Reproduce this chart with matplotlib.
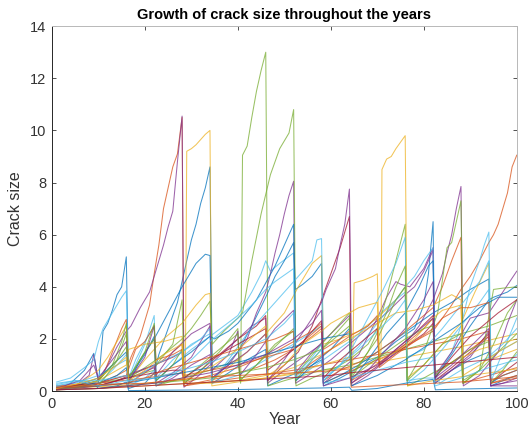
import matplotlib
matplotlib.use("Agg")
import matplotlib.pyplot as plt

# crack size per year, one list of (year, size) points per monitored crack
crack_01 = [(1,0.05),(4,0.3),(7,0.8),(9,1.45),(10,0.3),(11,2.3),(12,2.6),(13,3.1),(14,3.7),(15,4.0),(16,5.15),(16.5,0.1),(20,0.3),(22,0.7),(23,1.4),(25,2.4),(27,3.4),(28,4.2),(29,5.0),(30,5.8),(31,6.4),(32,7.2),(33,7.8),(34,8.6),(34.5,0.3),(38,0.7),(42,1.2),(46,1.6),(46.4,0.2),(50,0.5),(54,0.8),(58,1.2),(58.4,0.2),(62,0.5),(66,0.9),(70,1.3),(74,1.9),(78,2.4),(80,3.3),(81,4.5),(82,6.5),(82.4,0.3),(86,0.8),(90,1.2),(94,1.5),(94.4,0.2),(97,0.4),(100,0.6)]
crack_02 = [(1,0.1),(5,0.2),(9,0.35),(10,0.3),(14,0.6),(16,0.8),(17,1.3),(19,2.1),(21,3.3),(22,4.5),(23,5.6),(24,7.0),(25,7.8),(26,8.6),(27,9.1),(28,10.5),(28.4,0.2),(32,0.35),(36,0.5),(40,0.7),(44,0.9),(48,1.2),(52,1.6),(56,2.1),(58,2.4),(58.4,0.3),(62,0.6),(66,0.9),(70,1.2),(74,1.5),(78,1.9),(82,2.3),(84,2.8),(86,3.3),(88,3.9),(90,4.4),(92,5.0),(94,5.7),(95,6.0),(96,6.4),(97,7.0),(98,7.6),(99,8.6),(100,9.05)]
crack_03 = [(1,0.1),(8,0.15),(14,0.2),(20,0.3),(26,0.4),(28.7,0.45),(29,9.2),(30,9.3),(31,9.45),(32,9.65),(33,9.85),(34,10.0),(34.4,0.2),(40,0.35),(46,0.5),(52,0.65),(58,0.8),(64,0.9),(70,1.1),(76,1.3),(82,1.5),(88,1.7),(94,1.95),(100,2.2)]
crack_04 = [(1,0.05),(5,0.2),(8,0.6),(9,1.4),(10,0.4),(12,1.0),(14,1.7),(16,2.3),(17,2.5),(19,3.2),(21,3.8),(22,4.4),(23,5.0),(24,5.6),(25,6.3),(26,6.9),(27,8.8),(28,10.55),(28.4,0.15),(31,0.5),(34,1.0),(37,1.5),(40,2.0),(43,2.5),(46,2.8),(46.4,0.3),(50,0.8),(54,1.3),(58,1.8),(58.4,0.3),(62,0.8),(66,1.4),(70,2.8),(72,3.6),(74,4.2),(75,4.1),(77,4.0),(80,4.7),(82,5.5),(82.4,0.3),(86,0.8),(90,1.3),(94,2.3),(94.4,0.2),(97,0.3),(100,0.5)]
crack_05 = [(1,0.1),(6,0.2),(10,0.3),(16,0.5),(22,0.8),(22.4,0.2),(28,0.5),(34,0.8),(40,1.2),(40.6,0.3),(41,9.05),(42,9.4),(43,10.5),(44,11.5),(45,12.3),(46,13.0),(46.5,0.2),(50,0.4),(54,0.6),(58,0.8),(64,1.0),(70,1.3),(76,1.6),(82,1.9),(88,2.2),(94,2.5),(100,2.9)]
crack_06 = [(1,0.35),(4,0.5),(7,0.9),(9,1.2),(10,1.9),(11,2.4),(13,3.0),(15,3.6),(16,3.85),(16.5,0.5),(18,1.2),(20,1.9),(22,2.5),(22.4,0.4),(26,1.0),(30,1.6),(34,2.1),(37,2.5),(40,2.9),(43,3.8),(45,4.5),(46,5.0),(47,4.6),(49,4.9),(52,5.3),(52.4,0.4),(56,0.9),(60,1.4),(64,1.9),(68,2.5),(72,3.2),(76,3.8),(76.4,0.4),(80,0.5),(83,0.5),(83.4,0.3),(88,0.8),(94,1.3),(100,1.9)]
crack_07 = [(1,0.1),(5,0.2),(9,0.3),(10,0.2),(14,0.4),(18,0.7),(22,1.0),(26,1.3),(28,1.5),(28.4,0.3),(32,0.8),(36,1.4),(40,2.0),(44,2.5),(46,2.9),(46.4,0.4),(50,1.0),(53,1.5),(56,2.5),(58,3.5),(60,4.5),(62,5.5),(64,6.7),(64.4,0.3),(68,0.7),(72,1.2),(76,1.7),(80,2.2),(82,2.6),(82.4,0.4),(86,0.9),(90,1.5),(94,2.2),(94.4,0.3),(97,0.7),(100,1.1)]
crack_08 = [(1,0.1),(5,0.15),(10,0.3),(14,0.6),(16,0.9),(16.5,0.3),(19,1.2),(22,2.0),(25,3.0),(28,4.0),(31,4.9),(33,5.25),(34,5.2),(34.5,0.4),(37,0.9),(40,1.5),(43,2.5),(46,3.6),(48,4.4),(50,5.0),(52,5.7),(52.4,3.9),(54,4.1),(56,4.4),(58,4.9),(58.4,0.3),(62,0.6),(66,1.0),(70,1.5),(74,2.0),(78,2.5),(82,3.0),(86,3.4),(90,3.9),(94,4.3),(94.4,0.3),(97,0.6),(100,0.8)]
crack_09 = [(1,0.15),(5,0.2),(9,0.3),(11,0.6),(13,1.5),(15,2.4),(16,2.75),(16.5,0.3),(20,0.7),(24,1.2),(28,1.8),(28.4,0.3),(32,0.5),(36,0.7),(40,0.9),(44,1.2),(48,1.5),(52,1.9),(56,2.3),(58,2.6),(58.4,0.4),(62,0.8),(66,1.1),(70,1.5),(74,2.0),(78,2.6),(82,3.2),(84,4.0),(86,5.0),(88,5.9),(88.4,0.3),(92,0.5),(96,0.7),(100,0.9)]
crack_10 = [(1,0.1),(6,0.3),(10,0.8),(12,1.3),(14,1.9),(16,2.5),(16.5,0.4),(20,1.2),(24,2.0),(28,2.6),(31,3.3),(33,3.7),(34,3.75),(34.5,0.4),(38,0.9),(42,1.5),(46,2.2),(50,3.0),(53,4.0),(56,4.9),(58,5.2),(58.4,1.8),(62,2.0),(66,2.3),(70,2.8),(74,3.5),(76,4.0),(76.4,0.5),(80,1.0),(84,1.8),(88,2.6),(91,3.8),(94,4.9),(94.4,1.2),(97,1.4),(100,1.6)]
crack_11 = [(1,0.05),(5,0.1),(10,0.2),(14,0.4),(18,0.6),(22,0.9),(22.4,0.2),(26,0.5),(30,1.0),(34,1.4),(34.4,0.5),(38,1.0),(40,1.5),(42,2.0),(44,3.0),(46,3.8),(47,4.5),(48,5.3),(49,6.0),(50,6.8),(51,7.5),(52,8.05),(52.4,0.3),(56,0.7),(60,1.2),(64,1.8),(68,2.4),(72,3.0),(76,3.7),(78,4.0),(80,4.6),(82,5.4),(82.4,0.4),(86,0.8),(90,1.4),(94,2.1),(94.4,0.2),(97,0.3),(100,0.4)]
crack_12 = [(1,0.1),(6,0.2),(10,0.4),(13,1.0),(15,1.9),(16,2.6),(16.5,0.5),(20,0.9),(24,1.4),(28,2.0),(30,2.4),(32,2.9),(34,3.45),(34.5,1.8),(37,2.3),(40,2.8),(41,3.0),(43,5.0),(45,6.8),(47,8.3),(49,9.3),(51,9.9),(52,10.8),(52.5,0.2),(56,0.5),(60,0.8),(64,1.2),(68,1.8),(70,2.4),(72,3.6),(74,5.0),(76,6.4),(76.5,0.2),(80,0.5),(84,0.9),(88,1.3),(88.4,0.3),(92,0.8),(96,1.5),(100,2.2)]
crack_13 = [(1,0.2),(5,0.3),(10,0.6),(16,1.2),(16.5,0.4),(20,1.8),(22,2.9),(22.4,0.5),(26,1.2),(30,1.8),(34,2.2),(34.4,0.4),(38,1.2),(42,2.2),(46,3.0),(50,3.8),(53,4.4),(55,4.8),(56,5.0),(57,5.8),(58,5.85),(58.5,0.5),(62,1.0),(66,1.7),(70,2.6),(74,3.5),(76,4.0),(78,4.4),(80,5.0),(82,5.5),(82.4,0.5),(86,1.5),(88,2.5),(90,4.0),(92,5.0),(93,5.6),(94,6.1),(94.5,0.4),(97,1.5),(100,2.8)]
crack_14 = [(1,0.1),(5,0.2),(10,0.5),(16,1.5),(16.5,0.5),(20,1.4),(22,2.1),(22.4,0.4),(26,1.0),(30,1.5),(34,2.1),(35,2.0),(38,2.3),(40,2.6),(44,3.5),(48,4.8),(50,5.6),(52,6.4),(52.5,0.4),(56,1.0),(60,1.6),(64,2.4),(64.4,0.4),(68,1.2),(72,2.2),(76,3.0),(79,4.0),(81,4.8),(82,5.0),(82.4,0.5),(86,1.4),(90,2.5),(94,3.5),(95,3.6),(98,3.8),(100,4.05)]
crack_15 = [(1,0.2),(10,0.3),(20,0.5),(28,0.7),(28.4,0.2),(36,0.4),(44,0.6),(52,0.8),(58,1.0),(64,1.2),(70,1.4),(76,1.6),(82,1.8),(88,2.0),(94,2.3),(94.4,0.3),(100,0.5)]
crack_16 = [(1,0.05),(10,0.1),(20,0.2),(30,0.3),(40,0.4),(46,0.5),(52,0.7),(58,1.0),(64,1.3),(64.7,1.0),(65,4.15),(67,4.25),(69,4.4),(70,4.5),(70.5,1.0),(70.8,1.6),(71,8.5),(72,8.9),(73,9.0),(74,9.3),(75,9.55),(76,9.8),(76.5,0.2),(82,0.4),(88,0.55),(94,0.7),(100,0.85)]
crack_17 = [(1,0.1),(5,0.15),(10,0.3),(16,0.6),(22,1.0),(22.4,0.3),(26,0.7),(30,1.3),(34,2.5),(34.4,0.5),(38,1.0),(42,1.5),(46,2.2),(46.4,0.4),(50,1.2),(53,2.0),(56,2.8),(58,3.4),(59,3.9),(60,4.3),(61,4.7),(62,5.6),(63,6.4),(64,7.75),(64.5,0.2),(68,0.6),(72,1.2),(76,1.8),(79,2.5),(82,3.5),(84,4.5),(85,5.3),(86,6.0),(87,7.0),(88,7.85),(88.5,0.2),(92,0.6),(96,1.5),(98,2.6),(100,3.5)]
crack_18 = [(1,0.1),(5,0.2),(10,0.4),(14,1.2),(16,2.2),(16.5,0.5),(20,1.5),(22,2.0),(22.4,0.4),(26,1.0),(28,1.6),(28.4,0.3),(32,0.8),(36,1.5),(40,2.4),(40.4,0.4),(44,1.0),(48,1.7),(52,2.4),(52.4,0.4),(56,1.2),(60,2.0),(64,2.8),(64.4,0.5),(68,1.5),(70,2.0),(74,3.5),(76,4.0),(76.4,0.4),(80,1.5),(83,3.0),(85,5.5),(86,5.7),(87,6.5),(88,7.3),(88.5,0.3),(92,0.8),(95,1.8),(98,3.0),(100,3.5)]
crack_19 = [(1,0.2),(6,0.4),(10,0.3),(13,0.8),(16,1.4),(16.5,0.3),(22,1.0),(28,1.5),(32,2.0),(34,2.4),(34.4,0.3),(40,0.6),(46,1.2),(52,1.8),(58,2.5),(58.4,0.4),(62,1.0),(65,1.8),(68,2.8),(71,3.8),(74,4.9),(76,5.9),(76.4,0.3),(80,0.8),(84,1.6),(88,2.5),(92,3.4),(94,3.9),(94.4,0.6),(97,0.9),(100,1.4)]
crack_20 = [(1,0.15),(5,0.2),(9,0.3),(10,0.1),(14,0.2),(16,0.35),(16.5,0.02),(22,0.03),(28,0.04),(34,0.05),(40,0.06),(46,0.08),(52,0.1),(58,0.12),(64,0.15),(64.5,0.03),(70,0.1),(76,0.3),(82,0.45),(82.5,0.05),(88,0.08),(94,0.1),(100,0.12)]
crack_21 = [(1,0.1),(8,0.2),(10,0.3),(16,0.6),(18,1.6),(20,1.9),(22,2.5),(22.4,1.2),(26,1.4),(28,1.6),(28.4,0.6),(34,0.8),(40,1.0),(46,1.3),(52,1.6),(56,2.2),(58,2.5),(58.4,1.6),(62,2.0),(64,2.3),(64.4,0.4),(68,0.8),(72,1.3),(76,1.8),(80,2.4),(82,2.8),(82.4,0.7),(86,1.1),(90,1.6),(94,2.1),(94.4,0.4),(97,0.6),(100,0.8)]
crack_22 = [(1,0.1),(6,0.2),(10,0.4),(16,1.0),(16.5,1.6),(20,1.8),(24,1.9),(28,2.1),(28.4,0.3),(34,0.3),(40,0.4),(46,0.6),(52,0.9),(58,1.4),(62,1.8),(66,2.2),(70,2.6),(74,3.0),(78,3.1),(82,3.3),(86,3.7),(88,3.5),(88.4,0.6),(92,1.0),(96,1.5),(100,1.9)]
crack_23 = [(1,0.1),(6,0.4),(9,1.0),(10,0.5),(13,1.2),(16,1.9),(16.5,0.4),(20,1.3),(22,2.5),(22.4,0.6),(26,1.5),(30,2.2),(34,2.6),(34.4,0.8),(38,1.4),(40,2.3),(40.4,0.6),(44,1.4),(48,2.4),(52,3.1),(52.4,0.7),(56,1.5),(60,2.2),(64,2.9),(64.4,0.3),(68,0.8),(72,1.6),(76,2.4),(80,3.5),(82,4.2),(82.4,0.6),(86,1.5),(90,2.8),(94,3.0),(97,3.8),(100,4.6)]
crack_24 = [(1,0.05),(8,0.2),(10,0.2),(13,0.9),(16,1.7),(16.5,0.5),(20,1.5),(22,2.6),(22.4,1.0),(26,1.8),(28,3.5),(28.4,0.5),(32,1.0),(36,1.6),(40,2.2),(40.4,0.4),(44,1.0),(48,1.8),(52,2.3),(52.4,0.6),(56,1.4),(60,2.2),(64,3.0),(64.4,0.6),(68,1.5),(72,3.0),(74,4.0),(76,4.8),(76.4,0.4),(80,1.0),(84,1.8),(88,2.2),(88.4,0.4),(92,0.8),(95,3.9),(97,3.95),(100,4.0)]
crack_25 = [(1,0.3),(5,0.4),(10,0.4),(16,0.6),(16.5,0.2),(20,0.5),(22,0.8),(22.4,0.2),(26,0.6),(30,1.2),(34,1.9),(36,2.2),(40,2.8),(43,3.3),(46,3.9),(48,4.2),(52,4.7),(52.4,0.6),(56,1.3),(58,1.8),(58.4,0.4),(62,1.0),(66,1.6),(70,2.3),(74,3.0),(76,3.5),(76.4,1.3),(80,1.6),(84,2.4),(88,3.3),(92,4.2),(94,5.0),(94.4,1.4),(97,1.8),(100,2.4)]
crack_26 = [(1,0.1),(8,0.3),(10,0.2),(16,0.5),(22,0.7),(26,0.8),(28,0.8),(28.4,0.5),(34,1.2),(40,1.8),(46,2.4),(46.4,0.8),(50,1.3),(54,1.9),(58,2.7),(58.4,0.5),(62,1.2),(66,1.8),(70,2.4),(70.4,1.0),(74,1.6),(78,2.2),(82,2.9),(82.4,0.5),(86,1.3),(90,2.1),(94,2.7),(96,3.0),(100,3.5)]
crack_27 = [(1,0.1),(10,0.2),(16,0.3),(22,0.5),(28,0.7),(34,0.9),(40,1.1),(46,1.4),(52,1.7),(58,2.0),(64,2.2),(64.4,0.2),(70,0.6),(76,1.2),(82,1.9),(88,2.6),(92,3.2),(96,3.6),(100,3.6)]
crack_28 = [(1,0.1),(10,0.2),(16,0.3),(20,0.5),(24,0.8),(28,1.0),(32,1.2),(36,1.4),(40,1.6),(44,1.8),(48,2.0),(52,2.3),(52.4,0.6),(56,1.1),(60,1.6),(64,2.1),(68,2.5),(70,2.9),(70.4,0.9),(74,1.4),(78,1.9),(82,2.4),(84,2.8),(88,3.2),(90,3.2),(94,3.4),(94.4,0.3),(100,0.6)]
crack_29 = [(1,0.1),(6,0.3),(10,0.5),(14,1.0),(16,1.3),(16.5,0.4),(20,0.8),(24,1.4),(28,1.8),(28.4,0.4),(34,0.9),(40,1.6),(46,2.5),(46.4,0.6),(50,1.0),(54,1.8),(58,2.3),(60,2.6),(64,3.0),(66,3.2),(70,3.4),(70.4,1.2),(74,1.5),(78,2.0),(82,2.8),(84,3.1),(88,3.3),(88.4,1.3),(92,1.6),(96,1.8),(100,2.0)]
crack_30 = [(1,0.05),(10,0.1),(16,0.2),(22,0.3),(28,0.4),(34,0.5),(40,0.7),(46,0.9),(52,1.2),(58,1.6),(62,2.2),(64,2.5),(64.4,0.5),(68,1.0),(72,1.5),(76,2.0),(80,2.4),(82,2.5),(82.4,0.6),(86,1.1),(90,1.6),(94,1.9),(94.4,0.3),(97,0.8),(100,1.5)]
crack_31 = [(1,0.25),(5,0.4),(10,0.2),(16,0.4),(22,0.5),(28,0.8),(34,1.1),(40,1.5),(46,2.0),(50,2.6),(52,3.0),(52.4,0.5),(56,1.2),(58,1.6),(58.4,0.3),(64,0.5),(70,0.8),(76,1.1),(82,1.3),(82.4,0.2),(88,0.5),(94,0.9),(100,1.2)]
crack_32 = [(1,0.05),(10,0.1),(16,0.2),(22,0.3),(28,0.5),(34,0.7),(40,1.0),(46,1.4),(52,2.0),(56,2.6),(58,3.1),(58.4,0.2),(64,0.5),(70,1.0),(74,1.6),(78,2.2),(82,2.8),(82.4,0.5),(86,1.0),(90,1.7),(94,2.4),(94.4,0.2),(100,0.2)]
crack_33 = [(1,0.05),(10,0.1),(20,0.2),(30,0.3),(40,0.4),(50,0.5),(60,0.6),(64,0.7),(70,0.8),(76,0.9),(82,1.0),(88,1.1),(94,1.2),(100,1.3)]
crack_34 = [(1,0.15),(10,0.25),(20,0.3),(28,0.45),(34,0.55),(40,0.6),(46,0.65),(52,0.7),(58,0.75),(64,0.85),(64.4,0.15),(70,0.2),(76,0.25),(82,0.3),(88,0.35),(94,0.45),(100,0.55)]

cracks = [crack_01, crack_02, crack_03, crack_04, crack_05, crack_06, crack_07,
          crack_08, crack_09, crack_10, crack_11, crack_12, crack_13, crack_14,
          crack_15, crack_16, crack_17, crack_18, crack_19, crack_20, crack_21,
          crack_22, crack_23, crack_24, crack_25, crack_26, crack_27, crack_28,
          crack_29, crack_30, crack_31, crack_32, crack_33, crack_34]

# default matlab line colours
B, O, Y, P, G, L, R = '#0072BD', '#D95319', '#EDB120', '#7E2F8E', '#77AC30', '#4DBEEE', '#A2142F'
line_colors = [B, O, Y, P, G, L, R, B, O, Y, P, G, L, B, O, Y, P,
               G, L, B, O, Y, P, G, L, R, B, O, Y, G, L, P, R, O]

x_ticks = [0, 20, 40, 60, 80, 100]
y_ticks = [0, 2, 4, 6, 8, 10, 12, 14]

plt.rcParams['font.family'] = ['Liberation Sans', 'DejaVu Sans']

fig = plt.figure(figsize=(5.30, 4.36), dpi=100)
ax = fig.add_axes([0.098, 0.103, 0.877, 0.837])

for pts, col in zip(cracks, line_colors):
    yrs = [p[0] for p in pts]
    sz = [p[1] for p in pts]
    ax.plot(yrs, sz, color=col, lw=0.75, alpha=0.75)

ax.set_xlim(0, 100)
ax.set_ylim(0, 14)
ax.set_xticks(x_ticks)
ax.set_yticks(y_ticks)
ax.tick_params(direction='in', length=3, width=0.6, top=True, right=True,
               labelsize=10.5, colors='#333333', pad=4)
for side in ['left', 'bottom']:
    ax.spines[side].set_color('#262626')
    ax.spines[side].set_linewidth(0.7)
for side in ['right', 'top']:
    ax.spines[side].set_color('#b8b8b8')
    ax.spines[side].set_linewidth(0.7)

ax.set_title('Growth of crack size throughout the years', fontsize=10.5,
             fontweight='bold', color='black', pad=5)
ax.set_xlabel('Year', fontsize=11.5, color='#333333', labelpad=1)
ax.set_ylabel('Crack size', fontsize=11.5, color='#333333', labelpad=5)

fig.savefig('out.png', dpi=100)
